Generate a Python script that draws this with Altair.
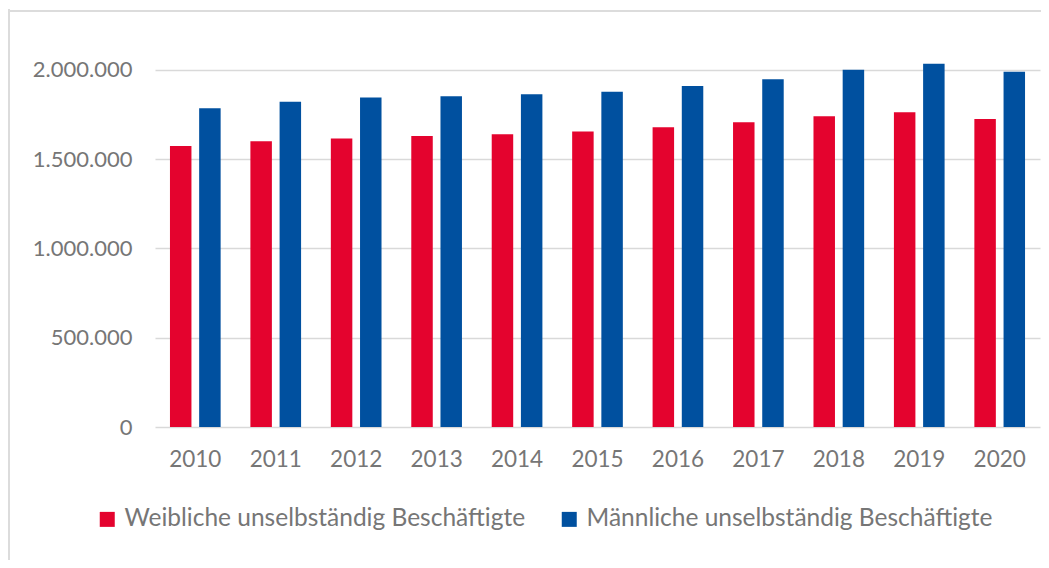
import altair as alt
import pandas as pd

years = ["2010", "2011", "2012", "2013", "2014", "2015", "2016", "2017", "2018", "2019", "2020"]
weiblich = [1573000, 1600000, 1616000, 1629000, 1639000, 1655000, 1678000, 1706000, 1740000, 1762000, 1725000]
maennlich = [1785000, 1822000, 1845000, 1852000, 1863000, 1878000, 1910000, 1948000, 2001000, 2034000, 1989000]
series = ["Weibliche unselbständig Beschäftigte", "Männliche unselbständig Beschäftigte"]
colors = ["#E4032E", "#00509F"]
y_ticks = [0, 500000, 1000000, 1500000, 2000000]

rows = []
for i, yr in enumerate(years):
    rows.append({"Jahr": yr, "Serie": series[0], "Wert": weiblich[i]})
    rows.append({"Jahr": yr, "Serie": series[1], "Wert": maennlich[i]})
df = pd.DataFrame(rows)

FONT = "Lato"
GRAY = "#767676"
GRID = "#d9d9d9"

bars = alt.Chart(df).mark_bar().encode(
    x=alt.X("Jahr:N", sort=years, title=None,
            scale=alt.Scale(paddingInner=0.37, paddingOuter=0.186),
            axis=alt.Axis(labelAngle=0, domain=False, ticks=False, labelPadding=21,
                          labelFontSize=22.5, labelColor=GRAY, labelFont=FONT)),
    xOffset=alt.XOffset("Serie:N", sort=series, scale=alt.Scale(paddingInner=0.264, paddingOuter=0)),
    y=alt.Y("Wert:Q", title=None,
            scale=alt.Scale(domain=[0, 2100000], nice=False),
            axis=alt.Axis(values=y_ticks, domain=False, ticks=False, labelPadding=23,
                          labelFontSize=22, labelColor=GRAY, labelFont=FONT,
                          gridColor=GRID, gridWidth=1.6,
                          labelExpr="replace(format(datum.value, ','), regexp(',', 'g'), '.')")),
    color=alt.Color("Serie:N", sort=series, scale=alt.Scale(domain=series, range=colors),
                    legend=alt.Legend(title=None, orient="none", direction="horizontal",
                                      legendX=-60, legendY=455, symbolType="square",
                                      symbolSize=225, symbolStrokeWidth=0, labelOffset=5,
                                      columnPadding=31, labelFontSize=24.5, labelColor=GRAY,
                                      labelFont=FONT, labelLimit=0, padding=0)),
)

frame_data = pd.DataFrame({"k": [0]})
frame_left = alt.Chart(frame_data).mark_rule(color="#dcdcdc", strokeWidth=2).encode(
    x=alt.value(-146), y=alt.value(-43), y2=alt.value(560))
frame_top = alt.Chart(frame_data).mark_rule(color="#dcdcdc", strokeWidth=2).encode(
    x=alt.value(-147), x2=alt.value(886), y=alt.value(-41))

chart = alt.layer(frame_left, frame_top, bars).properties(
    width=885, height=375,
    autosize=alt.AutoSizeParams(type="none"),
    padding={"left": 147, "top": 44, "right": 1, "bottom": 133},
).configure(background="white").configure_view(stroke=None)

chart.save("out.html", embed_options={"renderer": "svg", "actions": False})
